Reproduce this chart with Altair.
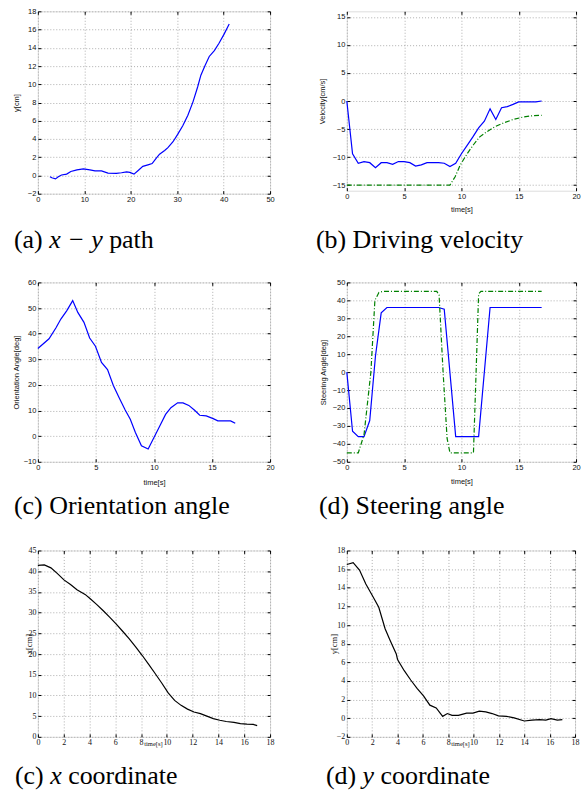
import altair as alt
import pandas as pd

# ---------------- data ----------------
# (a) x-y path
a_x = [2.6, 3.0, 3.8, 4.4, 5.1, 6.2, 7.1, 8.4, 9.8, 11.2, 12.3, 13.7, 15.1, 16.9, 18.0, 19.1, 19.8, 20.7,
       21.6, 22.6, 23.7, 24.6, 25.5, 26.2, 27.3, 28.0, 29.1, 30.1, 31.2, 32.3, 33.4, 34.4, 35.1, 36.0,
       36.9, 38.0, 39.0, 40.1, 41.2]
a_y = [-0.15, -0.25, -0.38, -0.15, 0.05, 0.15, 0.44, 0.62, 0.73, 0.62, 0.5, 0.5, 0.25, 0.22, 0.3, 0.4, 0.33,
       0.15, 0.55, 1.0, 1.16, 1.3, 1.9, 2.33, 2.73, 3.05, 3.7, 4.5, 5.45, 6.6, 8.07, 9.7, 11.0, 12.07,
       13.05, 13.7, 14.5, 15.5, 16.6]

# (b) driving velocity
b_t = [0, 0.5, 1.0, 1.5, 2.0, 2.5, 3.0, 3.5, 4.0, 4.5, 5.0, 5.5, 6.0, 6.5, 7.0, 7.5, 8.0, 8.5, 9.0, 9.5,
       10.0, 10.5, 11.0, 11.5, 12.0, 12.5, 13.0, 13.5, 14.0, 14.5, 15.0, 15.5, 16.0, 16.5, 17.0]
b_v = [0, -9.4, -11.1, -10.8, -11.0, -11.9, -11.0, -11.0, -11.3, -10.8, -10.8, -11.0, -11.6, -11.4, -11.0,
       -11.0, -11.0, -11.1, -11.7, -11.1, -9.4, -7.9, -6.4, -4.8, -3.6, -1.4, -3.3, -1.2, -1.0, -0.6,
       -0.15, -0.15, -0.15, -0.15, 0]
b_ref_t = [0, 9.0, 9.45, 9.9, 10.5, 11.05, 11.6, 12.2, 12.9, 13.7, 14.5, 15.4, 16.3, 17.0]
b_ref_v = [-15, -15, -13.5, -11.4, -9.4, -7.8, -6.4, -5.5, -4.6, -3.9, -3.3, -2.85, -2.6, -2.55]

# (c) orientation angle
c_t = [0, 0.96, 1.55, 1.98, 2.48, 3.0, 3.44, 3.97, 4.46, 4.96, 5.48, 6.0, 6.5, 7.0, 7.52, 7.96, 8.4,
       8.92, 9.5, 10.0, 10.5, 11.0, 11.46, 12.04, 12.5, 13.0, 13.5, 13.94, 14.5, 15.1, 15.5, 16.6, 17.0]
c_a = [34.2, 38, 42.2, 45.7, 48.9, 52.9, 48.3, 44.4, 38.3, 35.1, 28.8, 26, 19.8, 15, 10.2, 6.6, 1.4,
       -3.75, -5.0, -0.5, 4.0, 8.5, 11.1, 13, 13, 12, 10.1, 8.15, 7.9, 6.85, 5.95, 5.95, 5.0]

# (d) steering angle
d_t = [0, 0.5, 1.0, 1.5, 2.0, 2.5, 3.0, 3.5, 8.0, 8.5, 9.5, 11.5, 12.5, 17.0]
d_a = [0, -33, -36, -36, -27, 9, 33, 36, 36, 35, -36, -36, 36, 36]
d_ref_t = [0, 1.0, 1.5, 2.1, 2.45, 2.8, 3.2, 7.85, 8.05, 8.4, 8.75, 9.0, 11.05, 11.28, 11.5, 11.7, 17.0]
d_ref_a = [-45, -45, -35, 0, 40, 44.4, 45, 45, 43, 0, -37, -45, -45, 0, 43.6, 45, 45]

# (e) x coordinate
e_t = [0, 0.5, 1.01, 1.52, 2.02, 2.53, 3.03, 3.66, 4.04, 4.55, 5.05, 5.56, 6.06, 6.57, 7.07, 7.58, 8.08,
       8.59, 9.09, 9.6, 10.1, 10.6, 11.1, 11.6, 12.1, 12.6, 13.1, 13.6, 14.1, 14.6, 15.2, 15.7, 16.2,
       16.7, 17.0]
e_x = [41.4, 41.5, 40.8, 39.4, 37.9, 36.8, 35.5, 34.4, 33.4, 32, 30.5, 28.9, 27.3, 25.5, 23.7, 21.7,
       19.7, 17.5, 15.3, 13.0, 10.6, 8.8, 7.6, 6.7, 6.0, 5.6, 5.0, 4.4, 4.0, 3.7, 3.5, 3.2, 3.05, 3.0, 2.7]

# (f) y coordinate
f_t = [0, 0.5, 1.0, 1.5, 2.0, 2.52, 3.02, 3.4, 3.9, 4.0, 4.53, 5.04, 5.54, 6.05, 6.55, 7.05, 7.56, 7.93,
       8.3, 8.8, 9.45, 9.95, 10.45, 10.96, 11.46, 11.96, 12.6, 13.2, 14.0, 14.6, 15.2, 15.7, 16.1, 16.6, 17.0]
f_y = [16.5, 16.7, 15.9, 14.4, 13.2, 11.9, 9.6, 8.4, 6.9, 6.3, 5.1, 4.1, 3.2, 2.4, 1.4, 1.1, 0.2, 0.5,
       0.3, 0.3, 0.55, 0.55, 0.75, 0.68, 0.5, 0.25, 0.2, 0.04, -0.3, -0.2, -0.15, -0.2, -0.05, -0.2, -0.15]

# ---------------- styling helpers ----------------
SANS = "Liberation Sans"
SERIF = "Liberation Serif"
BLUE = "#0000ff"
GREEN = "#008000"

TIMES_R = {' ': 250, '(': 333, ')': 333, 'a': 444, 'b': 500, 'c': 444, 'd': 500, 'e': 444, 'g': 500,
           'h': 500, 'i': 278, 'l': 278, 'n': 500, 'o': 500, 'p': 500, 'r': 333, 's': 389, 't': 278,
           'v': 500, 'y': 500, 'D': 722, 'O': 722, 'S': 556, '\u2212': 564}
TIMES_I = {' ': 250, 'x': 444, 'y': 444, '\u2212': 675}
CAP_SIZE = 26


def text_width(s, italic):
    table = TIMES_I if italic else TIMES_R
    return sum(table.get(ch, 500) for ch in s) * CAP_SIZE / 1000.0


def caption_layers(parts, x0, y0):
    layers = []
    x = x0
    for text, italic in parts:
        shown = text.strip()
        lead = text_width(text[:len(text) - len(text.lstrip())], italic)
        if shown:
            layers.append(
                alt.Chart(pd.DataFrame({"k": [0]})).mark_text(
                    align="left", baseline="alphabetic", font=SERIF, fontSize=CAP_SIZE,
                    fontStyle="italic" if italic else "normal", color="black"
                ).encode(x=alt.value(x + lead), y=alt.value(y0), text=alt.value(shown))
            )
        x += text_width(text, italic)
    return layers


def panel(series, xdom, ydom, xticks, yticks, w, h, font, lab_fs, title_fs,
          xtitle, ytitle, ytitle_x, xtitle_y, caption, cap_dx, cap_dy, xtitle_fs=None, xtitle_dx=0):
    xs = alt.Scale(domain=xdom, nice=False, zero=False)
    ys = alt.Scale(domain=ydom, nice=False, zero=False)
    common = dict(grid=True, gridColor="#9a9a9a", gridDash=[1, 2], gridWidth=0.8, ticks=False,
                  domain=False, labelFont=font, labelFontSize=lab_fs, labelColor="#111",
                  labelPadding=2, labelFlush=False, labelOverlap=False, titleFont=font,
                  titleFontWeight="normal", titleColor="#111")
    layers = []
    for i, (xv, yv, color, dash) in enumerate(series):
        df = pd.DataFrame({"x": xv, "y": yv})
        if i == 0:
            if xtitle:
                xa = alt.Axis(values=xticks, title=xtitle, titleY=xtitle_y, titleX=w / 2 + xtitle_dx,
                              titleBaseline="middle", titleFontSize=xtitle_fs or title_fs,
                              orient="bottom", **common)
            else:
                xa = alt.Axis(values=xticks, title=None, orient="bottom", **common)
            ya = alt.Axis(values=yticks, title=ytitle, titleX=ytitle_x, titleY=h / 2,
                          titleFontSize=title_fs, titleBaseline="middle", titleAngle=270,
                          orient="left", **common)
        else:
            xa = None
            ya = None
        mk = dict(color=color, strokeWidth=1.2)
        if dash:
            mk["strokeDash"] = dash
        layers.append(
            alt.Chart(df).mark_line(**mk).encode(
                x=alt.X("x:Q", scale=xs, axis=xa),
                y=alt.Y("y:Q", scale=ys, axis=ya),
                order=alt.Order("x:Q"),
            )
        )
    # inward tick marks on all four sides
    df0 = pd.DataFrame({"x": series[0][0], "y": series[0][1]})
    tick_common = dict(grid=False, domain=False, labels=False, title=None, ticks=True, tickSize=3,
                       tickColor="black", tickWidth=1, offset=-3)
    for xo, yo in (("bottom", "left"), ("top", "right")):
        layers.append(
            alt.Chart(df0).mark_line(opacity=0).encode(
                x=alt.X("x:Q", scale=xs, axis=alt.Axis(values=xticks, orient=xo, **tick_common)),
                y=alt.Y("y:Q", scale=ys, axis=alt.Axis(values=yticks, orient=yo, **tick_common)),
            )
        )
    layers += caption_layers(caption, cap_dx, cap_dy)
    return alt.layer(*layers).resolve_axis(x="independent", y="independent").properties(
        width=w, height=h)


def rng(a, b, s):
    out = []
    v = a
    while v <= b + 1e-9:
        out.append(v)
        v += s
    return out


pa = panel([(a_x, a_y, BLUE, None)], [0, 50], [-2, 18], rng(0, 50, 10), rng(-2, 18, 2),
           233, 183, SANS, 7.5, 7.5, None, "y[cm]", -21, 19,
           [("(a) ", False), ("x \u2212 y", True), (" path", False)], -24, 237)
pb = panel([(b_t, b_v, BLUE, None), (b_ref_t, b_ref_v, GREEN, [5, 2, 1, 2])], [0, 20], [-16, 16],
           rng(0, 20, 5), rng(-15, 15, 5), 230, 180, SANS, 7.5, 7.5, "time[s]", "Velocity[cm/s]",
           -24, 19, [("(b) Driving velocity", False)], -31, 237)
pc = panel([(c_t, c_a, BLUE, None)], [0, 20], [-10, 60], rng(0, 20, 5), rng(-10, 60, 10),
           233, 180, SANS, 7.5, 7.5, "time[s]", "Orientation Angle[deg]", -21, 21,
           [("(c) Orientation angle", False)], -24, 232)
pd_ = panel([(d_t, d_a, BLUE, None), (d_ref_t, d_ref_a, GREEN, [5, 2, 1, 2])], [0, 20], [-50, 50],
            rng(0, 20, 5), rng(-50, 50, 10), 230, 180, SANS, 7.5, 7.5, "time[s]",
            "Steering Angle[deg]", -23, 20, [("(d) Steering angle", False)], -28, 232)
pe = panel([(e_t, e_x, "black", None)], [0, 18], [0, 45], rng(0, 18, 2), rng(0, 45, 5),
           233, 187, SERIF, 8, 8.5, "time[s]", "x[cm]", -9, 7,
           [("(c) ", False), ("x", True), (" coordinate", False)], -23, 234,
           xtitle_fs=6.6, xtitle_dx=-1)
pf = panel([(f_t, f_y, "black", None)], [0, 18], [-2, 18], rng(0, 18, 2), rng(-2, 18, 2),
           229, 187, SERIF, 8, 8.5, "time[s]", "y[cm]", -13, 7,
           [("(d) ", False), ("y", True), (" coordinate", False)], -21, 234,
           xtitle_fs=6.6, xtitle_dx=-1)

chart = alt.concat(
    pa, pb, pc, pd_, pe, pf, columns=2, spacing={"row": 89, "column": 77}, bounds="flush",
    padding={"left": 12, "top": 5, "right": 5, "bottom": 5},
).configure_view(stroke="black", strokeWidth=1.2).configure(background="white")

chart.save("out.html", embed_options={"renderer": "svg", "actions": False})
